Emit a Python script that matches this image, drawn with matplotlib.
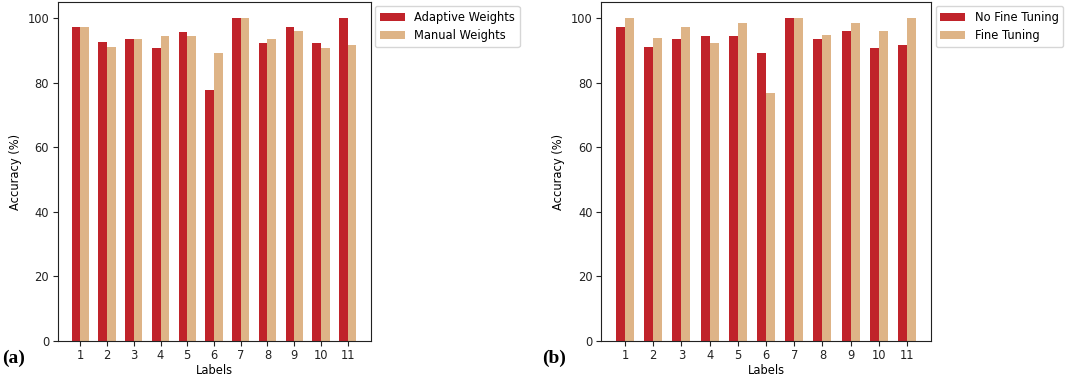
import matplotlib
matplotlib.use("Agg")
import matplotlib.pyplot as plt
import numpy as np

labels = [str(i) for i in range(1, 12)]
adaptive = [97.3, 92.7, 93.4, 90.9, 95.7, 77.8, 100.0, 92.3, 97.3, 92.3, 100.0]
manual = [97.3, 91.1, 93.4, 94.5, 94.5, 89.2, 100.0, 93.4, 96.0, 90.7, 91.8]
no_ft = [97.3, 91.1, 93.4, 94.5, 94.5, 89.2, 100.0, 93.4, 96.1, 90.7, 91.6]
ft = [100.0, 93.9, 97.3, 92.3, 98.6, 76.8, 100.0, 94.9, 98.6, 96.0, 100.0]

RED = "#c0232a"
TAN = "#deb487"
W = 0.32
FS = 8.3

fig = plt.figure(figsize=(10.65, 3.75), dpi=100)
H = 375.0
FW = 1065.0
def axes_px(x0, x1, y0, y1):
    return fig.add_axes([x0 / FW, 1 - y1 / H, (x1 - x0) / FW, (y1 - y0) / H])

ax1 = axes_px(57.5, 370.5, 2, 341)
ax2 = axes_px(601, 931, 2, 341)

x = np.arange(1, len(labels) + 1)
for ax, s1, s2, n1, n2, lx in [(ax1, adaptive, manual, "Adaptive Weights", "Manual Weights", 375),
                               (ax2, no_ft, ft, "No Fine Tuning", "Fine Tuning", 935.5)]:
    ax.bar(x - W / 2, s1, W, color=RED, label=n1)
    ax.bar(x + W / 2, s2, W, color=TAN, label=n2)
    ax.set_xticks(x)
    ax.set_xticklabels(labels)
    ax.set_xlabel("Labels", fontsize=FS, labelpad=1)
    ax.set_ylabel("Accuracy (%)", fontsize=FS, labelpad=4)
    ax.tick_params(labelsize=FS, colors="#222222", pad=2.5)
    for sp in ax.spines.values():
        sp.set_color("#222222")
    ax.legend(loc="upper left", bbox_to_anchor=(lx / FW, 1 - 6 / H),
              bbox_transform=fig.transFigure, fontsize=FS,
              handlelength=2.2, borderaxespad=0, borderpad=0.4)

fig.text(2 / FW, 1 - 358 / H, "(a)", fontsize=14, fontweight="bold",
         family="Liberation Serif", va="center", ha="left")
fig.text(542 / FW, 1 - 358 / H, "(b)", fontsize=14, fontweight="bold",
         family="Liberation Serif", va="center", ha="left")

fig.savefig("out.png", dpi=100)
